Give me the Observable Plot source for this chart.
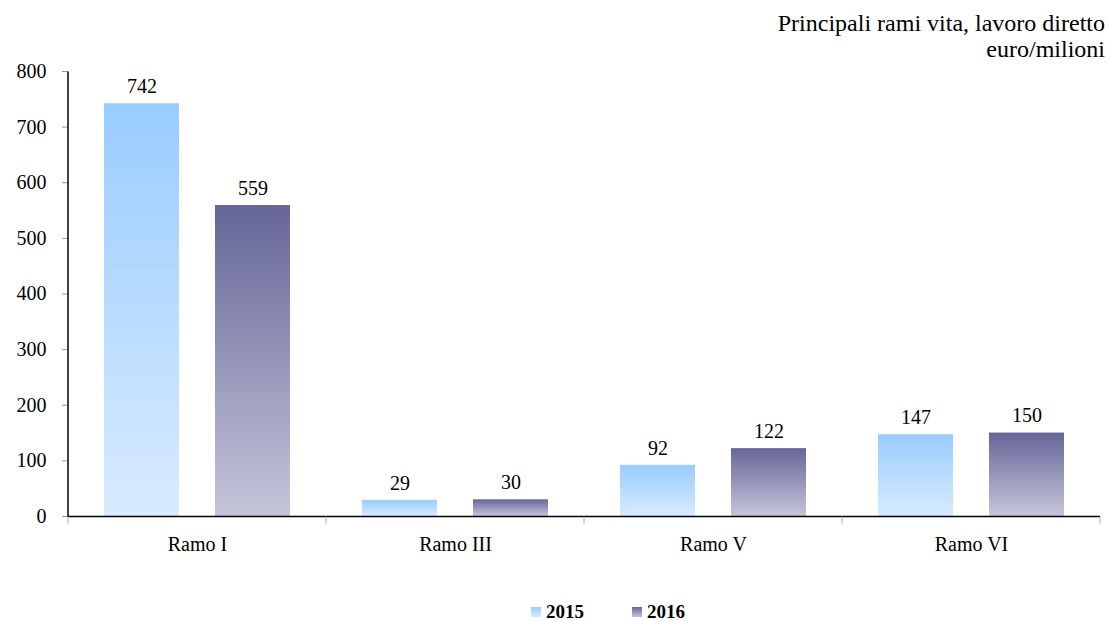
<!DOCTYPE html>
<html>
<head>
<meta charset="utf-8">
<script src="https://cdn.jsdelivr.net/npm/d3@7"></script>
<script src="https://cdn.jsdelivr.net/npm/@observablehq/plot@0.6"></script>
<style>
  html, body { margin: 0; padding: 0; background: #fff; }
  body { position: relative; width: 1109px; height: 621px; font-family: "Liberation Serif", "Times New Roman", serif; color: #000; overflow: hidden; }
  #title { position: absolute; top: 10px; right: 4px; text-align: right; font-size: 24px; line-height: 26px; }
  #chart { position: absolute; top: 60px; left: 0; }
  #legend { position: absolute; top: 602px; left: 531px; display: flex; align-items: center; font-size: 19px; font-weight: bold; line-height: 19px; height: 19px; }
  .item { display: flex; align-items: center; margin-right: 48px; }
  .sw { width: 10px; height: 10px; margin-right: 5px; }
</style>
</head>
<body>
<div id="title">Principali rami vita, lavoro diretto<br>euro/milioni</div>
<div id="chart"></div>
<div id="legend"></div>
<script>
const ramo = ["Ramo I", "Ramo III", "Ramo V", "Ramo VI"];
const years = ["2015", "2016"];
const v2015 = [742, 29, 92, 147];
const v2016 = [559, 30, 122, 150];
const yTicks = [0, 100, 200, 300, 400, 500, 600, 700, 800];
const gradTop = ["#99ccff", "#666699"];
const gradBottom = ["#d8ebff", "#c5c5da"];
const gradIds = ["g2015", "g2016"];

const data = ramo.flatMap((r, i) => [
  {ramo: r, year: years[0], value: v2015[i]},
  {ramo: r, year: years[1], value: v2016[i]}
]);
const decorData = ramo.map((r, i) => ({ramo: r, i}));

const ns = "http://www.w3.org/2000/svg";
function defs() {
  const g = document.createElementNS(ns, "g");
  const d = document.createElementNS(ns, "defs");
  years.forEach((y, i) => {
    const lg = document.createElementNS(ns, "linearGradient");
    lg.setAttribute("id", gradIds[i]);
    lg.setAttribute("x1", "0"); lg.setAttribute("y1", "0");
    lg.setAttribute("x2", "0"); lg.setAttribute("y2", "1");
    [[0, gradTop[i]], [1, gradBottom[i]]].forEach(([o, c]) => {
      const s = document.createElementNS(ns, "stop");
      s.setAttribute("offset", o);
      s.setAttribute("stop-color", c);
      lg.appendChild(s);
    });
    d.appendChild(lg);
  });
  g.appendChild(d);
  return g;
}

function line(g, x1, y1, x2, y2, stroke, w) {
  const l = document.createElementNS(ns, "line");
  l.setAttribute("x1", x1); l.setAttribute("x2", x2);
  l.setAttribute("y1", y1); l.setAttribute("y2", y2);
  l.setAttribute("stroke", stroke);
  l.setAttribute("stroke-width", w);
  g.appendChild(l);
}

function decorRender(index, scales, values, dims, context, next) {
  const g = next(index, scales, values, dims, context);
  const i = index.length ? decorData[index[0]].i : -1;
  const left = dims.marginLeft, right = dims.width - dims.marginRight;
  const y0 = scales.y(0), yTop = scales.y(yTicks[yTicks.length - 1]);
  line(g, left, y0, left, y0 + 7, "#aaa", 1);
  if (i === ramo.length - 1) line(g, right, y0, right, y0 + 7, "#aaa", 1);
  if (i === 0) line(g, left, yTop, left, y0, "#000", 1.5);
  return g;
}

const chart = Plot.plot({
  width: 1109,
  height: 500,
  marginTop: 11,
  marginBottom: 44,
  marginLeft: 67,
  marginRight: 9,
  style: {fontFamily: "Liberation Serif, Times New Roman, serif", fontSize: "20px", background: "#fff", color: "#000"},
  fx: {domain: ramo, padding: 0, label: null},
  x: {domain: years, padding: 0.324, axis: null},
  y: {domain: [0, 800], axis: null},
  color: {domain: years, range: gradIds.map(id => `url(#${id})`)},
  marks: [
    defs,
    Plot.axisY({ticks: yTicks, tickSize: 6, tickPadding: 16, stroke: "#999", fill: "#000", fontSize: 20, label: null}),
    Plot.barY(data, {fx: "ramo", x: "year", y: "value", fill: "year"}),
    Plot.text(data, {fx: "ramo", x: "year", y: "value", text: d => String(d.value), dy: -17, fontSize: 20, fill: "#000"}),
    Plot.axisFx({anchor: "bottom", tickSize: 0, tickPadding: 20, fontSize: 20, label: null, fill: "#000"}),
    Plot.ruleY(decorData, {fx: "ramo", y: d => 0, stroke: "#000", strokeWidth: 1.5, render: decorRender})
  ]
});
document.getElementById("chart").appendChild(chart);

const legend = document.getElementById("legend");
years.forEach((y, i) => {
  const item = document.createElement("div");
  item.className = "item";
  const sw = document.createElement("div");
  sw.className = "sw";
  sw.style.background = `linear-gradient(to bottom, ${gradTop[i]}, ${gradBottom[i]})`;
  const t = document.createElement("span");
  t.textContent = y;
  item.appendChild(sw);
  item.appendChild(t);
  legend.appendChild(item);
});
</script>
</body>
</html>
